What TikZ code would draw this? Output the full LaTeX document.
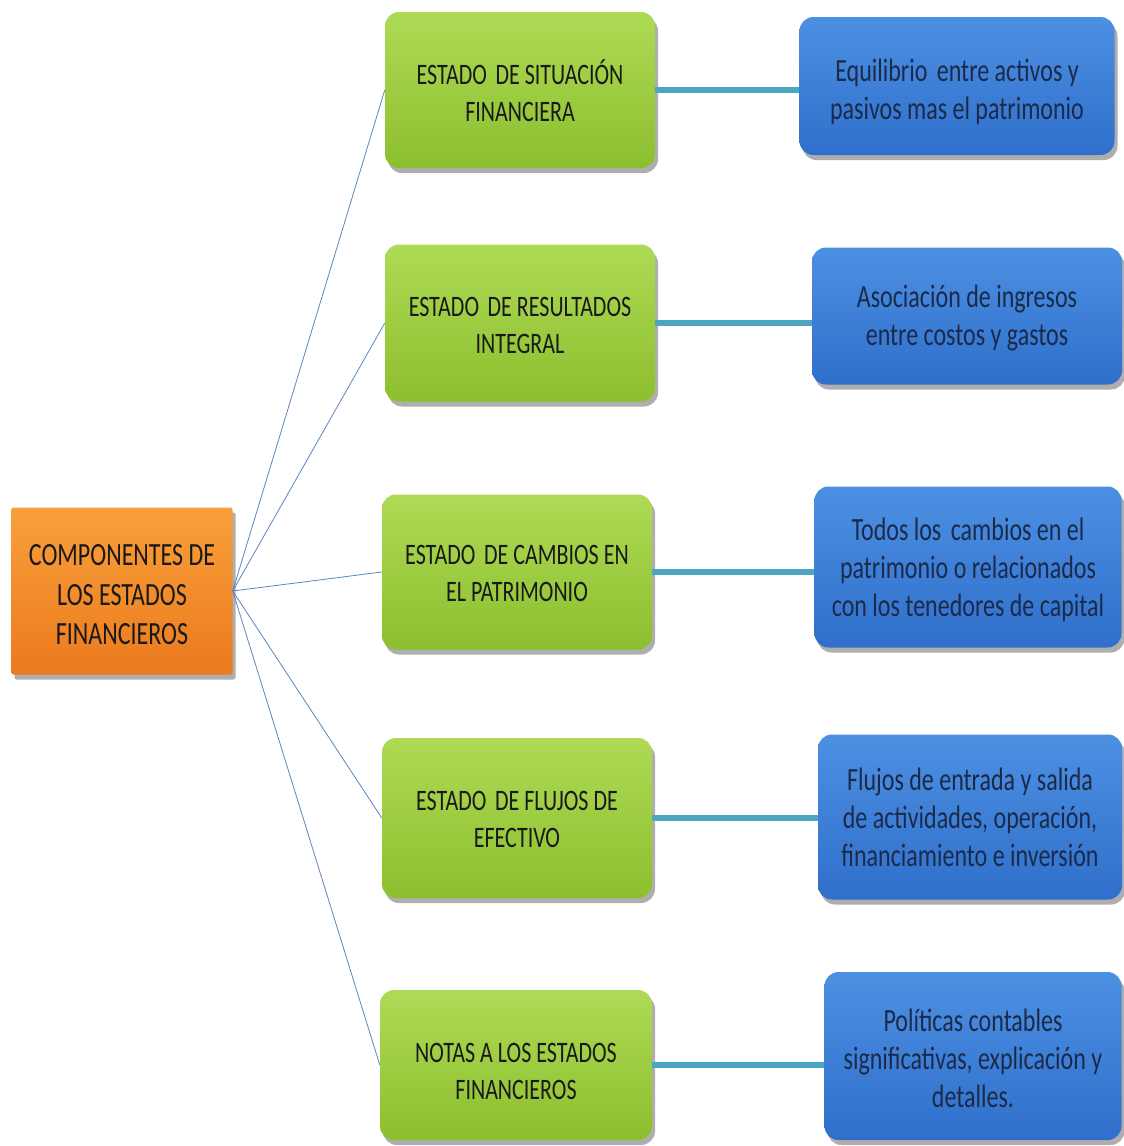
\documentclass[tikz,border=0pt]{standalone}
\usepackage{fontspec}
\usepackage{graphicx}
\setmainfont{Carlito}
\usetikzlibrary{shadows}
\definecolor{orangeTop}{HTML}{F9A03A}
\definecolor{orangeBot}{HTML}{EB7A1E}
\definecolor{greenTop}{HTML}{AEDA55}
\definecolor{greenBot}{HTML}{8CBF2E}
\definecolor{blueTop}{HTML}{4C90E2}
\definecolor{blueBot}{HTML}{2F6FCB}
\definecolor{navyText}{HTML}{1C2A4A}
\definecolor{thinLine}{HTML}{5B86C0}
\definecolor{tealLine}{HTML}{4BA6C0}
% tall, condensed-looking label block, set slightly below the box centre
\newcommand{\tallbox}[2][5pt]{\raisebox{-#1}[\height][\depth]{\scalebox{1}[1.35]{\begin{tabular}{@{}c@{}}#2\end{tabular}}}}
\tikzset{
  boxbase/.style={rounded corners=14pt, align=center, inner sep=4pt,
    drop shadow={shadow xshift=3pt, shadow yshift=-5pt, opacity=0.45, fill=black!70}},
  rootbox/.style={boxbase, rounded corners=2pt, top color=orangeTop, bottom color=orangeBot,
    minimum width=221pt, minimum height=167pt, font=\fontsize{24}{29.6}\selectfont, text=black!90},
  catbox/.style={boxbase, top color=greenTop, bottom color=greenBot,
    minimum width=270pt, minimum height=156pt, font=\fontsize{22}{27.4}\selectfont, text=black!90},
  descbox/.style={boxbase, top color=blueTop, bottom color=blueBot,
    font=\fontsize{24}{28}\selectfont, text=navyText},
  spoke/.style={thinLine, line width=0.8pt},
  link/.style={tealLine, line width=6pt}
}
\begin{document}
\begin{tikzpicture}[x=1pt,y=-1pt]
\useasboundingbox[fill=white] (0,0) rectangle (1124,1146);

% root
\node[rootbox] (root) at (122,591) {\tallbox[6pt]{COMPONENTES DE\\LOS ESTADOS\\FINANCIEROS}};

% statements
\node[catbox] (c1) at (520,90) {\tallbox[6pt]{ESTADO\, DE SITUACIÓN\\FINANCIERA}};
\node[catbox, minimum height=157pt] (c2) at (520,323) {\tallbox{ESTADO\, DE RESULTADOS\\INTEGRAL}};
\node[catbox, minimum height=155pt] (c3) at (517,572) {\tallbox[4pt]{ESTADO\, DE CAMBIOS EN\\EL PATRIMONIO}};
\node[catbox, minimum height=160pt] (c4) at (517,818) {\tallbox[4pt]{ESTADO\, DE FLUJOS DE\\EFECTIVO}};
\node[catbox, minimum width=272pt, minimum height=150pt] (c5) at (516,1065) {\tallbox[9pt]{NOTAS A LOS ESTADOS\\FINANCIEROS}};

% descriptions
\node[descbox, minimum width=315pt, minimum height=138pt] (d1) at (957,86) {\tallbox[7pt]{Equilibrio\, entre activos y\\pasivos mas el patrimonio}};
\node[descbox, minimum width=310pt, minimum height=137pt] (d2) at (967,316) {\tallbox[3pt]{Asociación de ingresos\\entre costos y gastos}};
\node[descbox, minimum width=307pt, minimum height=161pt] (d3) at (968,567) {\tallbox[4pt]{Todos los\, cambios en el\\patrimonio o relacionados\\con los tenedores de capital}};
\node[descbox, minimum width=304pt, minimum height=165pt] (d4) at (970,817) {\tallbox[4pt]{Flujos de entrada y salida\\de actividades, operación,\\financiamiento e inversión}};
\node[descbox, minimum width=297pt, minimum height=168pt] (d5) at (973,1056) {\tallbox[6pt]{Políticas contables\\significativas, explicación y\\detalles.}};

% spokes from the root
\foreach \c in {c1,c2,c3,c4,c5}
  \draw[spoke] (root.east) -- (\c.west);

% links to descriptions
\foreach \i in {1,...,5}
  \draw[link] (c\i.east) -- (d\i.west |- c\i.east);
\end{tikzpicture}
\end{document}
